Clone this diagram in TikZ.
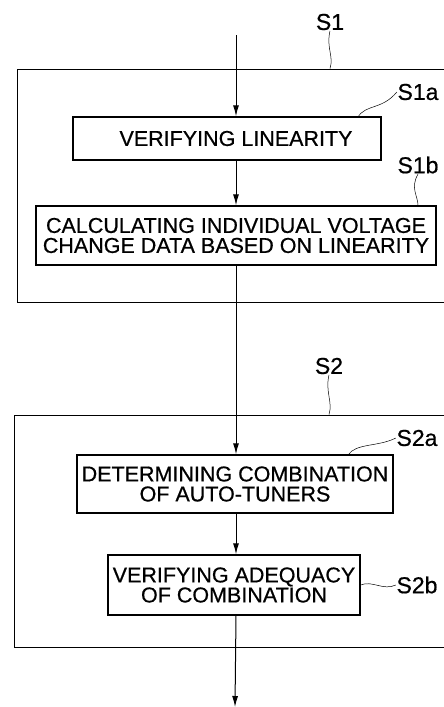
\documentclass[tikz,border=0pt]{standalone}
\usepackage{fontspec}
\setmainfont{Liberation Sans}[FakeBold=0.6]
\usetikzlibrary{arrows.meta}

\begin{document}
\begin{tikzpicture}[
		x=1pt, y=-1pt,
		every node/.style={rectangle, draw, line width=1.4pt, align=center,
			font=\fontsize{21.5}{20}\selectfont, inner sep=0pt},
		outer/.style={line width=1pt},
		tag/.style={draw=none, font=\fontsize{23}{23}\selectfont},
		flow/.style={line width=1pt, -{Latex[length=11pt, width=6pt]}},
		lead/.style={line width=0.5pt}
	]
  \clip (0, 0) rectangle (444, 707);
  % outer blocks
  \node (s1) [outer, minimum width=455, minimum height=233] at (245, 185.5) {};
  \node (s2) [outer, minimum width=458, minimum height=232] at (243, 531) {};
  % steps
  \node (s1a) [minimum width=308, minimum height=43] at (227, 138.5) {\hspace*{18pt}VERIFYING LINEARITY};
  \node (s1b) [minimum width=400, minimum height=59] at (236, 235.5) {CALCULATING INDIVIDUAL VOLTAGE\\CHANGE DATA BASED ON LINEARITY};
  \node (s2a) [minimum width=316, minimum height=58] at (235, 484) {DETERMINING COMBINATION\\OF AUTO-TUNERS};
  \node (s2b) [minimum width=252, minimum height=60] at (234, 585) {VERIFYING ADEQUACY\\OF COMBINATION};
  % reference signs
  \node (t_s1) [tag] at (330, 22) {S1};
  \node (t_s1a) [tag] at (418, 92) {S1a};
  \node (t_s1b) [tag] at (418, 165) {S1b};
  \node (t_s2) [tag] at (329, 366) {S2};
  \node (t_s2a) [tag] at (417, 438) {S2a};
  \node (t_s2b) [tag] at (417, 585) {S2b};
  \coordinate (start) at (236, 35);
  \coordinate (finish) at (235, 707);
  % flow
  \draw [flow] (start) -- (start |- s1a.north);
  \draw [flow] (s1a.south -| start) -- (s1b.north -| start);
  \draw [flow] (s1b.south -| start) -- (s2a.north -| start);
  \draw [flow] (s2a.south -| start) -- (s2b.north -| start);
  \draw [flow] (s2b.south -| start) -- (finish);
  % leaders
  \draw [lead] (t_s1.south) .. controls (326, 48) and (334, 56) .. (t_s1.south |- s1.north);
  \draw [lead] (358, 117) .. controls (366, 104) and (382, 110) .. (t_s1a.west);
  \draw [lead] (t_s1b.south) .. controls (410, 188) and (418, 196) .. (t_s1b.south |- s1b.north);
  \draw [lead] (t_s2.south) .. controls (325, 392) and (333, 402) .. (t_s2.south |- s2.north);
  \draw [lead] (348, 455) .. controls (356, 443) and (378, 447) .. (t_s2a.west);
  \draw [lead] (s2b.east) .. controls (372, 580) and (383, 591) .. (t_s2b.west);
\end{tikzpicture}
\end{document}
